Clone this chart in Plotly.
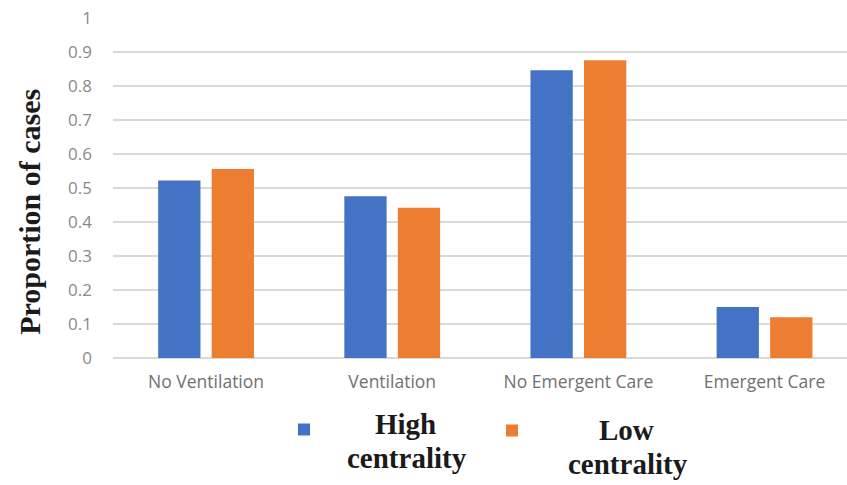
import plotly.graph_objects as go

categories = ["No Ventilation", "Ventilation", "No Emergent Care", "Emergent Care"]
high_centrality = [0.522, 0.476, 0.846, 0.150]
low_centrality = [0.556, 0.442, 0.876, 0.120]
y_ticks = [0, 0.1, 0.2, 0.3, 0.4, 0.5, 0.6, 0.7, 0.8, 0.9, 1]
y_tick_text = ["0", "0.1", "0.2", "0.3", "0.4", "0.5", "0.6", "0.7", "0.8", "0.9", "1"]
series_labels = [["High", "centrality"], ["Low", "centrality"]]

SERIF = "Liberation Serif, Times New Roman, serif"
W, H = 847, 485

fig = go.Figure()
fig.add_trace(go.Bar(x=categories, y=high_centrality, name="\u00a0", legend="legend",
                     marker=dict(color="#4472C4", line=dict(width=0))))
fig.add_trace(go.Bar(x=categories, y=low_centrality, name="\u00a0", legend="legend2",
                     marker=dict(color="#ED7D31", line=dict(width=0))))

legend_style = dict(orientation="v", xref="container", yref="container",
                    xanchor="left", yanchor="middle",
                    font=dict(family=SERIF, size=12, color="#1a1a1a"),
                    itemwidth=30, bgcolor="rgba(0,0,0,0)", borderwidth=0)

fig.update_layout(
    width=W, height=H,
    margin=dict(l=113, r=0, t=18, b=127, pad=0, autoexpand=False),
    paper_bgcolor="white", plot_bgcolor="white",
    barmode="group", bargap=0.425, bargroupgap=0.21,
    showlegend=True,
    legend=dict(x=(303 - 19) / W, y=1 - 429.5 / H, **legend_style),
    legend2=dict(x=(511 - 19) / W, y=1 - 430.5 / H, **legend_style),
    font=dict(family="Open Sans, Liberation Sans, sans-serif", color="#7f7f7f"),
)

fig.update_xaxes(
    range=[-0.5, 3.443], showgrid=False, showline=False, zeroline=False,
    tickfont=dict(size=17.5, color="#707070"), ticks="", ticklabelstandoff=11,
)
fig.update_yaxes(
    range=[0, 1], tickvals=y_ticks, ticktext=y_tick_text,
    showgrid=True, gridcolor="#d9d9d9", gridwidth=1.5,
    zeroline=True, zerolinecolor="#d9d9d9", zerolinewidth=1.5,
    showline=False, ticks="", ticklabelstandoff=20,
    tickfont=dict(size=17, color="#8a8a8a"),
)

fig.add_annotation(
    text="<b>Proportion of cases</b>", textangle=-90,
    xref="paper", yref="paper", x=-0.113, y=0.43, xanchor="center", yanchor="middle",
    showarrow=False,
    font=dict(family=SERIF, size=30, color="#1a1a1a"),
)

# Centered two-line legend captions next to each swatch
caption_lines = [
    (series_labels[0][0], 405, 424), (series_labels[0][1], 407, 458),
    (series_labels[1][0], 626, 430), (series_labels[1][1], 628, 464),
]
for text, cx, cy in caption_lines:
    fig.add_annotation(
        text="<b>" + text + "</b>", xref="paper", yref="paper",
        x=(cx - 113) / (W - 113), y=(H - 127 - cy) / (H - 127 - 18),
        xanchor="center", yanchor="middle", showarrow=False,
        font=dict(family=SERIF, size=29, color="#1a1a1a"),
    )

fig.write_html("out.html")
